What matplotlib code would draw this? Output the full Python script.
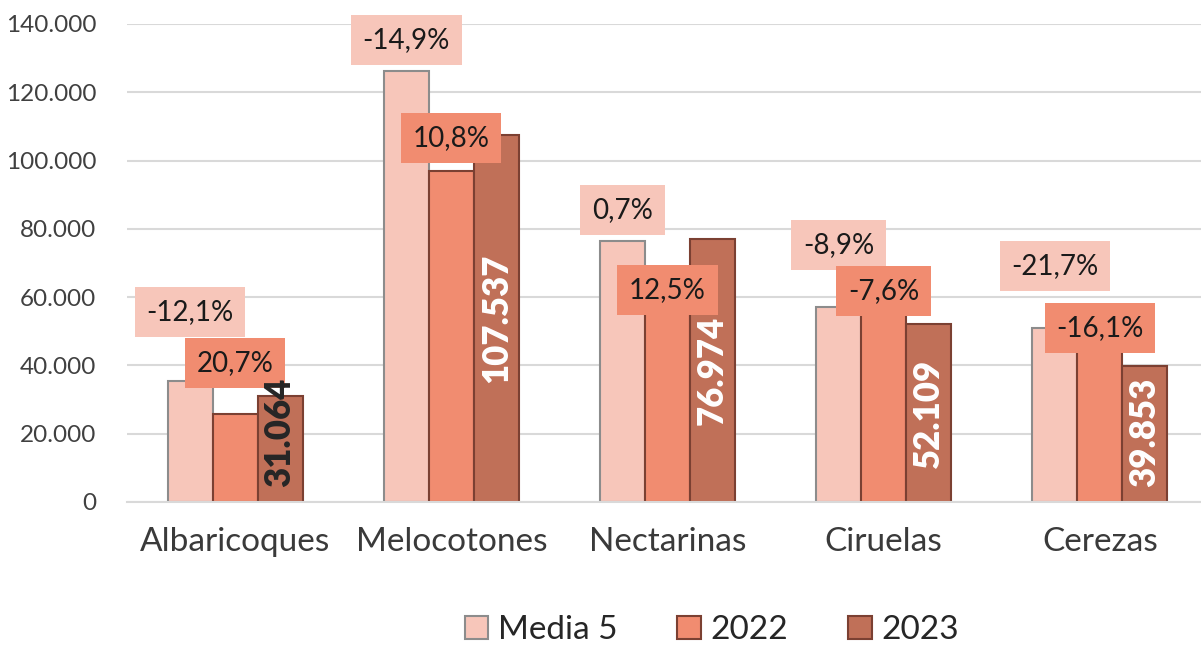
import numpy as np
import matplotlib.pyplot as plt
from matplotlib.patches import Patch

plt.rcParams["font.family"] = ["Lato", "DejaVu Sans"]

# Data
categories = ["Albaricoques", "Melocotones", "Nectarinas", "Ciruelas", "Cerezas"]
media5 = [35340, 126370, 76440, 57200, 50900]
y2022 = [25740, 97060, 68420, 56400, 47500]
y2023 = [31064, 107537, 76974, 52109, 39853]
var_media = ["-12,1%", "-14,9%", "0,7%", "-8,9%", "-21,7%"]
var_2022 = ["20,7%", "10,8%", "12,5%", "-7,6%", "-16,1%"]
value_labels = ["31.064", "107.537", "76.974", "52.109", "39.853"]

# where the percentage boxes sit (manually placed in the original)
media_label_y = [55600, 135300, 85500, 75300, 69100]
y2022_label_y = [40700, 106600, 62100, 61800, 51000]

c_media, c_22, c_23 = "#F7C6BA", "#F18C70", "#C07058"
e_media, e_dark = "#8C8C8C", "#7B4032"

fig = plt.figure(figsize=(12.01, 6.46), dpi=100)
ax = fig.add_axes([127 / 1201, 1 - 502 / 646, 1074 / 1201, 478 / 646])

x = np.arange(len(categories))
w = 45 / 216.25

ax.bar(x - w, media5, w, color=c_media, edgecolor=e_media, linewidth=1.5, zorder=2)
ax.bar(x, y2022, w, color=c_22, edgecolor=e_dark, linewidth=1.5, zorder=2)
ax.bar(x + w, y2023, w, color=c_23, edgecolor=e_dark, linewidth=1.5, zorder=2)

for i in range(len(categories)):
    # 2023 value inside the bar, drawn over the boxes
    ty = max(y2023[i] / 2, 20500)
    col = "white" if y2023[i] > 35000 else "#262626"
    ax.text(x[i] + w, ty, value_labels[i], rotation=90, ha="center", va="center",
            fontsize=25, fontweight="heavy", color=col, zorder=8)
    ax.text(x[i] - w, media_label_y[i], var_media[i], ha="center", va="center",
            fontsize=20, color="#1a1a1a", zorder=6,
            bbox=dict(boxstyle="square,pad=0.42", fc=c_media, ec="none"))
    ax.text(x[i], y2022_label_y[i], var_2022[i], ha="center", va="center",
            fontsize=20, color="#1a1a1a", zorder=6,
            bbox=dict(boxstyle="square,pad=0.42", fc=c_22, ec="none"))

ax.set_xlim(-0.5, 4.5 - 7 / 216.25)
ax.set_ylim(0, 140000)
ax.set_yticks(np.arange(0, 140001, 20000))
ax.set_yticklabels([f"{v:,}".replace(",", ".") for v in range(0, 140001, 20000)])
ax.set_xticks(x)
ax.set_xticklabels(categories, fontsize=24, fontweight="normal", color="#3a3a3a")
ax.tick_params(axis="y", length=0, labelsize=17.5, labelcolor="#404040", pad=22)
ax.tick_params(axis="x", length=0, pad=18)
ax.grid(axis="y", color="#D9D9D9", linewidth=1.5, zorder=0)
for s in ["top", "right", "left"]:
    ax.spines[s].set_visible(False)
ax.spines["bottom"].set_color("#D9D9D9")
ax.spines["bottom"].set_linewidth(1.5)

handles = [Patch(fc=c_media, ec=e_media, lw=1.5, label="Media 5"),
           Patch(fc=c_22, ec=e_dark, lw=1.5, label="2022"),
           Patch(fc=c_23, ec=e_dark, lw=1.5, label="2023")]
fig.legend(handles=handles, loc="center", bbox_to_anchor=(712 / 1201, 1 - 630 / 646),
           ncol=3, frameon=False, fontsize=24, handlelength=0.7, handleheight=0.7,
           handletextpad=0.3, columnspacing=1.8, labelcolor="#262626")

fig.savefig("out.png", dpi=100)
